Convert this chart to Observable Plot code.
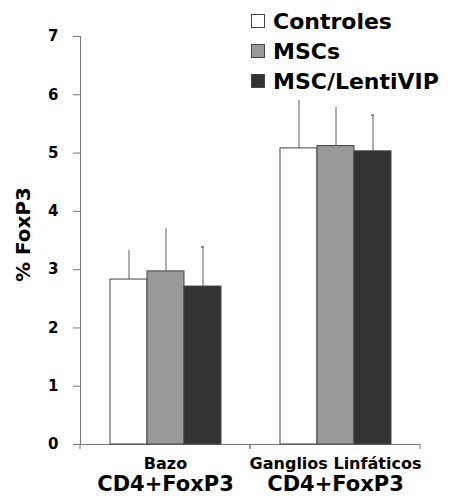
<!DOCTYPE html>
<html>
<head>
<meta charset="utf-8">
<script src="https://cdn.jsdelivr.net/npm/d3@7"></script>
<script src="https://cdn.jsdelivr.net/npm/@observablehq/plot@0.6"></script>
<style>
  body { margin: 0; background: #fff; }
  #wrap { position: relative; width: 452px; height: 497px; }
  .legend { position: absolute; left: 251px; top: 6px; font-family: "DejaVu Sans", sans-serif; font-weight: bold; font-size: 22px; color: #000; }
  .row { display: flex; align-items: center; height: 30px; white-space: nowrap; }
  .sw { width: 12px; height: 12px; border: 1px solid #444; margin-right: 8px; box-sizing: content-box; }
</style>
</head>
<body>
<div id="wrap"></div>
<script>
const groups = ["Bazo", "Ganglios Linfáticos"];
const subLabel = "CD4+FoxP3";
const series = ["Controles", "MSCs", "MSC/LentiVIP"];
const colors = ["#ffffff", "#999999", "#333333"];
const bazoMeans = [2.83, 2.97, 2.71];
const bazoSD = [0.50, 0.73, 0.68];
const gangliosMeans = [5.08, 5.12, 5.03];
const gangliosSD = [0.82, 0.66, 0.62];
const yTicks = [0, 1, 2, 3, 4, 5, 6, 7];
const yLabel = "% FoxP3";

const means = [bazoMeans, gangliosMeans];
const sds = [bazoSD, gangliosSD];
const data = [];
groups.forEach((g, gi) => series.forEach((s, si) => {
  data.push({group: g, series: s, value: means[gi][si], sd: sds[gi][si], top: means[gi][si] + sds[gi][si]});
}));

function edgeTicks(index, scales, values, dimensions) {
  const {width, marginLeft, marginRight} = dimensions;
  const y0 = scales.y(0);
  const g = d3.create("svg:g").attr("stroke", "#777").attr("stroke-width", 1);
  for (const x of [marginLeft, width - marginRight]) {
    g.append("line").attr("x1", x).attr("x2", x).attr("y1", y0).attr("y2", y0 + 5);
  }
  return g.node();
}

const plot = Plot.plot({
  width: 452,
  height: 497,
  marginTop: 36,
  marginRight: 32,
  marginBottom: 53,
  marginLeft: 79,
  style: {fontFamily: "DejaVu Sans, sans-serif", fontWeight: "bold", background: "#fff", color: "#000"},
  fx: {domain: groups, padding: 0},
  x: {domain: series, paddingInner: 0, paddingOuter: 0.74, axis: null},
  y: {domain: [0, 7]},
  color: {domain: series, range: colors},
  marks: [
    Plot.frame({anchor: "left", stroke: "#777", facetAnchor: "left"}),
    Plot.ruleY([0], {stroke: "#777"}),
    edgeTicks,
    Plot.axisY({ticks: yTicks, tickFormat: d3.format("d"), tickSize: 7, tickPadding: 15, fontSize: 15, stroke: "#777", fill: "#000", label: null}),
    Plot.text([yLabel], {frameAnchor: "left", textAnchor: "middle", rotate: -90, dx: -57, dy: -6, fontSize: 20, fill: "#000", facetAnchor: "left"}),
    Plot.axisFx({anchor: "bottom", tickSize: 0, tickPadding: 13, fontSize: 16, fill: "#000", label: null}),
    Plot.axisFx({anchor: "bottom", tickSize: 0, tickPadding: 32, fontSize: 21, fill: "#000", label: null, tickFormat: () => subLabel}),
    Plot.ruleX(data, {fx: "group", x: "series", y1: "value", y2: "top", stroke: "#777", strokeWidth: 1.2}),
    Plot.tickY(data.filter(d => d.series === "MSC/LentiVIP"), {fx: "group", x: "series", y: "top", stroke: "#777", strokeWidth: 1.5, insetLeft: 17, insetRight: 17}),
    Plot.barY(data, {fx: "group", x: "series", y: "value", fill: "series", stroke: "#444", strokeWidth: 1})
  ]
});

const wrap = document.getElementById("wrap");
wrap.appendChild(plot);

const legend = document.createElement("div");
legend.className = "legend";
series.forEach((s, i) => {
  const row = document.createElement("div");
  row.className = "row";
  const sw = document.createElement("span");
  sw.className = "sw";
  sw.style.background = colors[i];
  const label = document.createElement("span");
  label.textContent = s;
  row.appendChild(sw);
  row.appendChild(label);
  legend.appendChild(row);
});
wrap.appendChild(legend);
</script>
</body>
</html>
